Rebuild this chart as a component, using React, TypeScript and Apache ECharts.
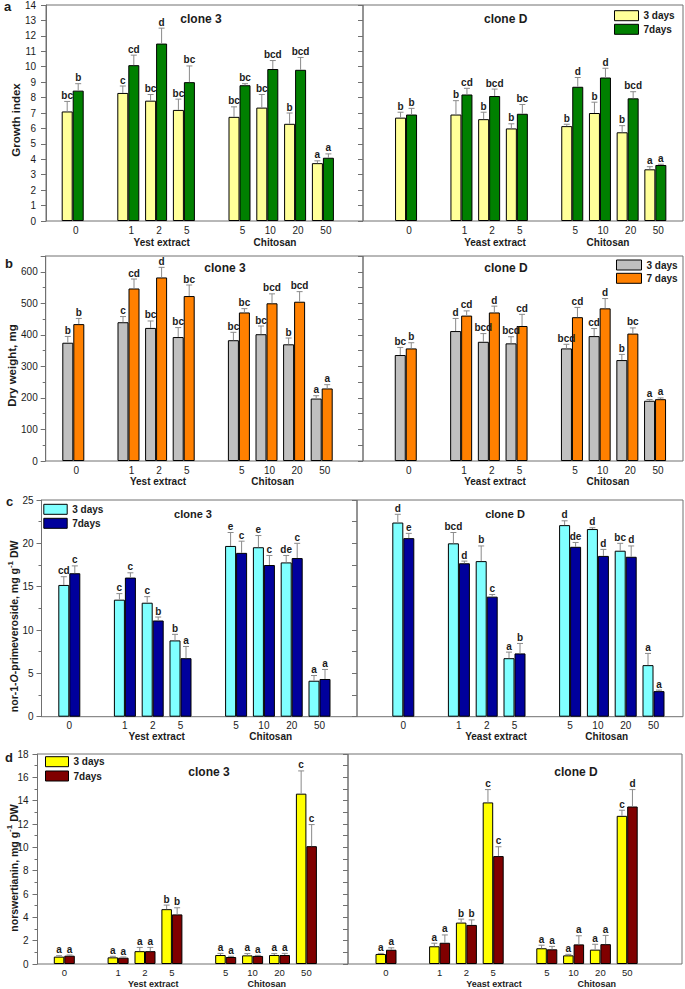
import React, { useEffect, useRef } from "react";
import * as echarts from "echarts";

// ---------- categories ----------
const doseCategories = ["0", "gap1", "YE 1", "YE 2", "YE 5", "gap2", "CH 5", "CH 10", "CH 20", "CH 50"];

// ---------- panel a: growth index ----------
const growthC3Day3 = [7.1, 8.3, 7.8, 7.2, 6.75, 7.35, 6.3, 3.75];
const growthC3Day3Err = [0.65, 0.45, 0.4, 0.7, 0.65, 0.85, 0.7, 0.15];
const growthC3Day3Sig = ["bc", "c", "bc", "bc", "bc", "bc", "b", "a"];
const growthC3Day7 = [8.45, 10.1, 11.5, 9.0, 8.8, 9.85, 9.8, 4.1];
const growthC3Day7Err = [0.45, 0.65, 1.0, 1.05, 0.1, 0.55, 0.8, 0.25];
const growthC3Day7Sig = ["b", "cd", "d", "bc", "bc", "bcd", "bcd", "a"];
const growthCDDay3 = [6.7, 6.9, 6.6, 6.0, 6.15, 7.0, 5.75, 3.35];
const growthCDDay3Err = [0.35, 0.9, 0.45, 0.3, 0.12, 0.7, 0.43, 0.17];
const growthCDDay3Sig = ["b", "b", "b", "b", "b", "b", "b", "a"];
const growthCDDay7 = [6.9, 8.2, 8.1, 6.95, 8.7, 9.3, 7.95, 3.63];
const growthCDDay7Err = [0.4, 0.4, 0.45, 0.6, 0.6, 0.6, 0.43, 0.05];
const growthCDDay7Sig = ["b", "cd", "bcd", "bc", "d", "d", "bcd", "a"];

// ---------- panel b: dry weight ----------
const dryC3Day3 = [375, 440, 422, 393, 383, 402, 370, 198];
const dryC3Day3Err = [20, 18, 22, 30, 25, 26, 20, 9];
const dryC3Day3Sig = ["b", "c", "bc", "bc", "bc", "bc", "b", "a"];
const dryC3Day7 = [434, 547, 582, 523, 471, 500, 505, 230];
const dryC3Day7Err = [18, 30, 32, 35, 12, 30, 32, 12];
const dryC3Day7Sig = ["b", "cd", "d", "bc", "bc", "bcd", "bcd", "a"];
const dryCDDay3 = [336, 412, 378, 373, 357, 396, 320, 191];
const dryCDDay3Err = [24, 40, 26, 21, 13, 24, 18, 4];
const dryCDDay3Sig = ["bc", "d", "bcd", "bcd", "bcd", "cd", "b", "a"];
const dryCDDay7 = [357, 461, 471, 428, 456, 484, 404, 196];
const dryCDDay7Err = [18, 15, 20, 37, 31, 31, 18, 4];
const dryCDDay7Sig = ["b", "cd", "d", "cd", "cd", "d", "bc", "a"];

// ---------- panel c: nor-1-O-primeveroside ----------
const primC3Day3 = [15.2, 13.5, 13.15, 8.8, 19.7, 19.55, 17.8, 4.15];
const primC3Day3Err = [0.95, 0.7, 0.7, 0.7, 1.55, 1.35, 0.8, 0.6];
const primC3Day3Sig = ["cd", "c", "c", "b", "e", "e", "de", "a"];
const primC3Day7 = [16.55, 16.05, 11.1, 6.75, 18.9, 17.5, 18.3, 4.35];
const primC3Day7Err = [0.85, 0.55, 0.4, 1.35, 1.35, 1.1, 1.7, 1.1];
const primC3Day7Sig = ["c", "c", "b", "a", "c", "c", "c", "a"];
const primCDDay3 = [22.4, 20.0, 17.95, 6.75, 22.1, 21.65, 19.15, 5.95];
const primCDDay3Err = [0.95, 1.25, 1.75, 0.7, 0.5, 0.15, 0.85, 1.35];
const primCDDay3Sig = ["d", "bcd", "b", "a", "d", "d", "bc", "a"];
const primCDDay7 = [20.6, 17.7, 13.85, 7.3, 19.6, 18.55, 18.45, 2.95];
const primCDDay7Err = [0.55, 0.25, 0.25, 1.15, 0.5, 0.75, 1.25, 0.12];
const primCDDay7Sig = ["e", "d", "c", "b", "de", "d", "d", "a"];

// ---------- panel d: norswertianin ----------
const norC3Day3 = [0.63, 0.57, 1.1, 4.7, 0.77, 0.74, 0.77, 14.6];
const norC3Day3Err = [0.08, 0.09, 0.32, 0.35, 0.14, 0.15, 0.12, 1.95];
const norC3Day3Sig = ["a", "a", "a", "b", "a", "a", "a", "c"];
const norC3Day7 = [0.71, 0.54, 1.1, 4.25, 0.6, 0.69, 0.77, 10.1];
const norC3Day7Err = [0.06, 0.06, 0.32, 0.57, 0.06, 0.05, 0.14, 1.85];
const norC3Day7Sig = ["a", "a", "a", "b", "a", "a", "a", "c"];
const norCDDay3 = [0.86, 1.52, 3.55, 13.85, 1.35, 0.74, 1.23, 12.7];
const norCDDay3Err = [0.05, 0.26, 0.3, 1.1, 0.26, 0.09, 0.46, 0.48];
const norCDDay3Sig = ["a", "a", "b", "c", "a", "a", "a", "c"];
const norCDDay7 = [1.22, 1.82, 3.35, 9.25, 1.26, 1.68, 1.7, 13.5];
const norCDDay7Err = [0.17, 0.67, 0.43, 0.8, 0.25, 0.74, 0.75, 1.45];
const norCDDay7Sig = ["a", "a", "b", "c", "a", "a", "a", "d"];

// ---------- styling / layout ----------
const FONT = '"Liberation Sans", Arial, Helvetica, sans-serif';
const AXIS_COLOR = "#707070";
const TEXT_COLOR = "#1b1b1b";
const ERR_COLOR = "#8a8a8a";

const barSlots = doseCategories.map((c, i) => (c.startsWith("gap") ? -1 : i)).filter((i) => i >= 0);
const withGaps = (vals: number[]) => {
  const out: (number | null)[] = doseCategories.map(() => null);
  barSlots.forEach((slot, i) => (out[slot] = vals[i]));
  return out;
};
const catLabel = (v: string) => (v.startsWith("gap") ? "" : v.replace(/^(YE|CH) /, ""));

type CloneSet = {
  d3: number[]; d3Err: number[]; d3Sig: string[];
  d7: number[]; d7Err: number[]; d7Sig: string[];
};

const panels = [
  {
    key: "a", label7: "7days", color3: "#FFFF99", color7: "#008000",
    yName: "Growth index", max: 14, interval: 1, rightInterval: 1, minor: false,
    top: 5, bottom: 221, axisX: 46, divider: 363, right: 683,
    dataL: [58.8, 278], dataR: [392.2, 277], barWidth: 11, xLabelMargin: 4, labelPad: 6, xFont: 10,
    yLabelMargin: 10, nameGap: 22, namePad: 14, nameSize: 11.5,
    legend: [614, 9.7], legendW: 24, legendGap: 1.6,
    letterPos: [4, 6], titles: [[201, 19], [505.7, 19]], titleSize: 12,
    groups: [[161.7, 275, 495, 608], 242], groupFont: 10,
    clones: [
      { d3: growthC3Day3, d3Err: growthC3Day3Err, d3Sig: growthC3Day3Sig, d7: growthC3Day7, d7Err: growthC3Day7Err, d7Sig: growthC3Day7Sig },
      { d3: growthCDDay3, d3Err: growthCDDay3Err, d3Sig: growthCDDay3Sig, d7: growthCDDay7, d7Err: growthCDDay7Err, d7Sig: growthCDDay7Sig },
    ] as CloneSet[],
  },
  {
    key: "b", label7: "7 days", color3: "#C0C0C0", color7: "#FF8000",
    yName: "Dry weight, mg", max: 650, interval: 100, rightInterval: 50, minor: true,
    top: 256, bottom: 461, axisX: 45.7, divider: 363, right: 683,
    dataL: [59.5, 276], dataR: [391.9, 277], barWidth: 11, xLabelMargin: 4.7, labelPad: 6, xFont: 10,
    yLabelMargin: 8, nameGap: 25.7, namePad: 14, nameSize: 11.5,
    legend: [616, 259], legendW: 25, legendGap: 1.3,
    letterPos: [5, 263], titles: [[225, 268], [506, 268]], titleSize: 12,
    groups: [[158, 272.7, 495, 608], 481], groupFont: 10,
    clones: [
      { d3: dryC3Day3, d3Err: dryC3Day3Err, d3Sig: dryC3Day3Sig, d7: dryC3Day7, d7Err: dryC3Day7Err, d7Sig: dryC3Day7Sig },
      { d3: dryCDDay3, d3Err: dryCDDay3Err, d3Sig: dryCDDay3Sig, d7: dryCDDay7, d7Err: dryCDDay7Err, d7Sig: dryCDDay7Sig },
    ] as CloneSet[],
  },
  {
    key: "c", label7: "7days", color3: "#80FFFF", color7: "#00009C",
    yName: "nor-1-{it|O}-primeveroside, mg g{sup|-1} DW", max: 25, interval: 5, rightInterval: 2.5, minor: true,
    top: 500, bottom: 716.7, axisX: 41.5, divider: 357, right: 683,
    dataL: [55.4, 278], dataR: [389.4, 278], barWidth: 11, xLabelMargin: 3.3, labelPad: 0, xFont: 10,
    yLabelMargin: 8, nameGap: 19.5, namePad: 36, nameSize: 10.5,
    legend: [43.3, 503.3], legendW: 23.4, legendGap: 2,
    letterPos: [6, 501], titles: [[193, 514], [505, 514]], titleSize: 11,
    groups: [[156.7, 270.7, 496, 606.7], 736.7], groupFont: 10,
    clones: [
      { d3: primC3Day3, d3Err: primC3Day3Err, d3Sig: primC3Day3Sig, d7: primC3Day7, d7Err: primC3Day7Err, d7Sig: primC3Day7Sig },
      { d3: primCDDay3, d3Err: primCDDay3Err, d3Sig: primCDDay3Sig, d7: primCDDay7, d7Err: primCDDay7Err, d7Sig: primCDDay7Sig },
    ] as CloneSet[],
  },
  {
    key: "d", label7: "7days", color3: "#FFFF00", color7: "#800000",
    yName: "norswertianin, mg g{sup|-1} DW", max: 18, interval: 2, rightInterval: 1, minor: true,
    top: 754, bottom: 964, axisX: 37.5, divider: 348, right: 682,
    dataL: [50.85, 269], dataR: [372.6, 268], barWidth: 10.5, xLabelMargin: 3.3, labelPad: 0, xFont: 9.5,
    yLabelMargin: 9, nameGap: 16, namePad: 18, nameSize: 10.5,
    legend: [45, 755.7], legendW: 23, legendGap: 2.3,
    letterPos: [5, 757], titles: [[209, 771.7], [576, 771.7]], titleSize: 12,
    groups: [[153.3, 266.7, 494, 596.7], 983.8], groupFont: 9,
    clones: [
      { d3: norC3Day3, d3Err: norC3Day3Err, d3Sig: norC3Day3Sig, d7: norC3Day7, d7Err: norC3Day7Err, d7Sig: norC3Day7Sig },
      { d3: norCDDay3, d3Err: norCDDay3Err, d3Sig: norCDDay3Sig, d7: norCDDay7, d7Err: norCDDay7Err, d7Sig: norCDDay7Sig },
    ] as CloneSet[],
  },
];

const cloneNames = ["clone 3", "clone D"];
const groupNames = [["Yest extract", "Chitosan"], ["Yeast extract", "Chitosan"]];

function makeErrRender(offset: number, sig: string[]) {
  return (params: any, api: any) => {
    const x = api.value(0);
    const v = api.value(1);
    const e = api.value(2);
    const base = api.coord([x, v]);
    const top = api.coord([x, v + e]);
    const cx = base[0] + offset;
    return {
      type: "group",
      children: [
        { type: "line", shape: { x1: cx, y1: base[1], x2: cx, y2: top[1] }, style: { stroke: ERR_COLOR, lineWidth: 1 } },
        { type: "line", shape: { x1: cx - 3, y1: top[1], x2: cx + 3, y2: top[1] }, style: { stroke: ERR_COLOR, lineWidth: 1 } },
        {
          type: "text",
          style: {
            text: sig[params.dataIndex], x: cx, y: top[1] - 1,
            align: "center", verticalAlign: "bottom", textAlign: "center", textVerticalAlign: "bottom",
            fontSize: 10, fontWeight: "bold", fontFamily: FONT, fill: TEXT_COLOR,
          },
        },
      ],
    };
  };
}

function textEl(text: string, x: number, y: number, size: number, align = "center") {
  return {
    type: "text", x, y, silent: true,
    style: {
      text, fill: TEXT_COLOR, fontSize: size, fontWeight: "bold", fontFamily: FONT,
      align, verticalAlign: "middle", textAlign: align, textVerticalAlign: "middle",
    },
  };
}

function buildOption() {
  const grid: any[] = [];
  const xAxis: any[] = [];
  const yAxis: any[] = [];
  const series: any[] = [];
  const legend: any[] = [];
  const graphic: any[] = [];

  panels.forEach((p, k) => {
    const h = p.bottom - p.top;
    const b = 4 * k;
    const frame = { show: true, borderColor: AXIS_COLOR, borderWidth: 1, backgroundColor: "transparent", outerBoundsMode: "none" };
    grid.push({ ...frame, left: p.axisX, top: p.top, width: p.divider - p.axisX, height: h });
    grid.push({ ...frame, left: p.divider, top: p.top, width: p.right - p.divider, height: h });
    grid.push({ left: p.dataL[0], top: p.top, width: p.dataL[1], height: h, outerBoundsMode: "none" });
    grid.push({ left: p.dataR[0], top: p.top, width: p.dataR[1], height: h, outerBoundsMode: "none" });

    xAxis.push({ gridIndex: b, type: "value", show: false, min: 0, max: 1 });
    xAxis.push({ gridIndex: b + 1, type: "value", show: false, min: 0, max: 1 });
    [2, 3].forEach((j) =>
      xAxis.push({
        gridIndex: b + j, type: "category", data: doseCategories,
        axisLine: { show: false }, axisTick: { show: false }, splitLine: { show: false },
        axisLabel: {
          interval: 0, formatter: catLabel, margin: p.xLabelMargin, fontSize: p.xFont,
          fontFamily: FONT, color: TEXT_COLOR, padding: [0, 0, 0, p.labelPad],
        },
      })
    );

    yAxis.push({
      gridIndex: b, type: "value", position: "left", min: 0, max: p.max, interval: p.interval,
      axisLine: { show: true, lineStyle: { color: AXIS_COLOR, width: 1 } },
      axisTick: { show: true, inside: false, length: 5, lineStyle: { color: AXIS_COLOR } },
      minorTick: { show: p.minor, splitNumber: 2, length: 3, lineStyle: { color: AXIS_COLOR } },
      splitLine: { show: false }, minorSplitLine: { show: false },
      axisLabel: {
        margin: p.yLabelMargin, fontSize: 10, fontFamily: FONT, color: TEXT_COLOR,
        formatter: (v: number) => (Math.abs(v / p.interval - Math.round(v / p.interval)) < 1e-6 ? String(v) : ""),
      },
      name: p.yName, nameLocation: "middle", nameGap: p.nameGap, nameRotate: 90, nameMoveOverlap: false,
      nameTextStyle: {
        fontSize: p.nameSize, fontWeight: "bold", fontFamily: FONT, color: TEXT_COLOR,
        padding: [0, p.namePad, 0, 0], lineHeight: 16,
        rich: {
          it: { fontStyle: "italic", fontSize: p.nameSize, fontWeight: "bold", fontFamily: FONT, color: TEXT_COLOR, lineHeight: 16 },
          sup: { fontSize: 8, fontWeight: "bold", fontFamily: FONT, color: TEXT_COLOR, lineHeight: 8, verticalAlign: "top" },
        },
      },
    });
    yAxis.push({
      gridIndex: b + 1, type: "value", position: "right", min: 0, max: p.max, interval: p.rightInterval,
      axisLine: { show: false }, axisLabel: { show: false }, splitLine: { show: false },
      axisTick: { show: true, inside: true, length: 5, lineStyle: { color: AXIS_COLOR } },
    });
    yAxis.push({ gridIndex: b + 2, type: "value", min: 0, max: p.max, show: false, splitLine: { show: false } });
    yAxis.push({ gridIndex: b + 3, type: "value", min: 0, max: p.max, show: false, splitLine: { show: false } });

    const name3 = `${p.key}|3 days`;
    const name7 = `${p.key}|${p.label7}`;
    p.clones.forEach((c, s) => {
      const ai = b + 2 + s;
      const common = {
        xAxisIndex: ai, yAxisIndex: ai, barWidth: p.barWidth, barGap: "0%",
        silent: true, emphasis: { disabled: true }, animation: false,
      };
      series.push({ ...common, type: "bar", name: name3, data: withGaps(c.d3), itemStyle: { color: p.color3, borderColor: "#000", borderWidth: 1 } });
      series.push({ ...common, type: "bar", name: name7, data: withGaps(c.d7), itemStyle: { color: p.color7, borderColor: "#000", borderWidth: 1 } });
      series.push({
        type: "custom", name: `${p.key}-err3-${s}`, xAxisIndex: ai, yAxisIndex: ai, z: 5, silent: true,
        data: barSlots.map((slot, i) => [slot, c.d3[i], c.d3Err[i]]),
        renderItem: makeErrRender(-p.barWidth / 2, c.d3Sig),
      });
      series.push({
        type: "custom", name: `${p.key}-err7-${s}`, xAxisIndex: ai, yAxisIndex: ai, z: 5, silent: true,
        data: barSlots.map((slot, i) => [slot, c.d7[i], c.d7Err[i]]),
        renderItem: makeErrRender(p.barWidth / 2, c.d7Sig),
      });
    });

    legend.push({
      data: [name3, name7], orient: "vertical", left: p.legend[0], top: p.legend[1], padding: 0,
      itemWidth: p.legendW, itemHeight: 10, itemGap: p.legendGap, icon: "rect", selectedMode: false,
      formatter: (n: string) => n.split("|")[1],
      itemStyle: { borderColor: "#000", borderWidth: 1 },
      textStyle: { fontSize: 10, fontWeight: "bold", fontFamily: FONT, color: TEXT_COLOR, lineHeight: 12 },
    });

    graphic.push(textEl(p.key, p.letterPos[0], p.letterPos[1], 13, "left"));
    p.titles.forEach((t, s) => graphic.push(textEl(cloneNames[s], t[0], t[1], p.titleSize)));
    const gx = p.groups[0] as number[];
    const gy = p.groups[1] as number;
    graphic.push(textEl(groupNames[0][0], gx[0], gy, p.groupFont));
    graphic.push(textEl(groupNames[0][1], gx[1], gy, p.groupFont));
    graphic.push(textEl(groupNames[1][0], gx[2], gy, p.groupFont));
    graphic.push(textEl(groupNames[1][1], gx[3], gy, p.groupFont));
  });

  return {
    animation: false,
    backgroundColor: "#ffffff",
    textStyle: { fontFamily: FONT },
    grid, xAxis, yAxis, series, legend, graphic,
  };
}

export default function App() {
  const ref = useRef<HTMLDivElement>(null);
  useEffect(() => {
    if (!ref.current) return;
    const chart = echarts.init(ref.current, null, { renderer: "svg" });
    chart.setOption(buildOption() as any);
    return () => chart.dispose();
  }, []);
  return <div ref={ref} style={{ position: "absolute", left: 0, top: 0, width: 685, height: 989 }} />;
}
